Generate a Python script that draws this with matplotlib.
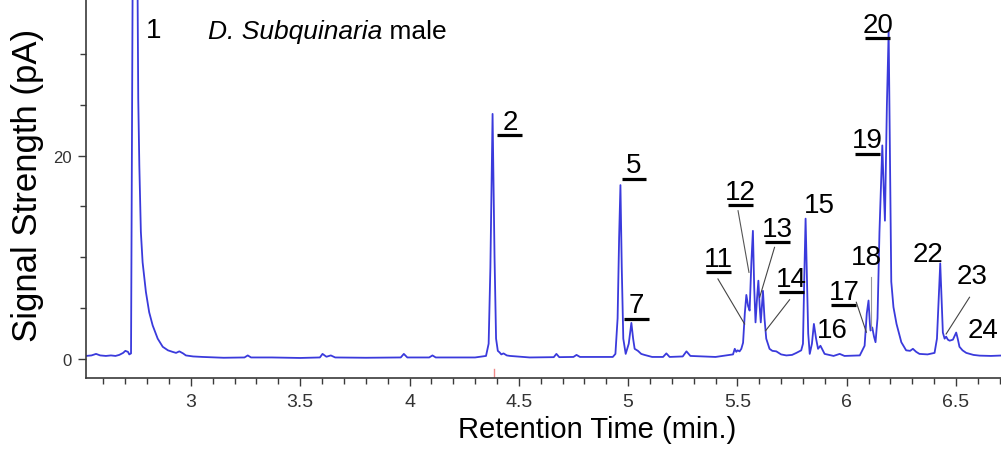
import matplotlib
matplotlib.use('Agg')
import matplotlib.pyplot as plt
from matplotlib.ticker import FixedLocator, MultipleLocator

# chromatogram trace (min, pA)
rt = [2.520, 2.545, 2.566, 2.585, 2.611, 2.634, 2.655, 2.672, 2.690, 2.700,
      2.712, 2.718, 2.726, 2.742, 2.756, 2.759, 2.764, 2.771, 2.779, 2.794,
      2.809, 2.825, 2.848, 2.871, 2.895, 2.916, 2.932, 2.947, 2.964, 2.977,
      3.010, 3.054, 3.150, 3.245, 3.260, 3.275, 3.370, 3.500, 3.590, 3.602,
      3.620, 3.640, 3.660, 3.800, 3.960, 3.974, 3.990, 4.090, 4.105, 4.120,
      4.300, 4.350, 4.362, 4.370, 4.380, 4.389, 4.396, 4.404, 4.412, 4.420,
      4.430, 4.445, 4.460, 4.550, 4.660, 4.672, 4.685, 4.750, 4.764, 4.780,
      4.930, 4.942, 4.952, 4.959, 4.965, 4.971, 4.978, 4.989, 5.003, 5.015,
      5.023, 5.030, 5.045, 5.060, 5.075, 5.110, 5.160, 5.175, 5.190, 5.250,
      5.267, 5.285, 5.400, 5.480, 5.488, 5.495, 5.501, 5.510, 5.518, 5.526,
      5.534, 5.541, 5.549, 5.556, 5.564, 5.571, 5.577, 5.583, 5.590, 5.596,
      5.602, 5.607, 5.612, 5.617, 5.624, 5.632, 5.647, 5.660, 5.678, 5.700,
      5.724, 5.750, 5.770, 5.792, 5.800, 5.806, 5.812, 5.818, 5.824, 5.831,
      5.841, 5.850, 5.860, 5.869, 5.880, 5.899, 5.940, 5.968, 5.990, 6.060,
      6.082, 6.092, 6.100, 6.106, 6.109, 6.117, 6.125, 6.132, 6.141, 6.150,
      6.163, 6.169, 6.175, 6.184, 6.192, 6.198, 6.204, 6.214, 6.228, 6.250,
      6.272, 6.290, 6.303, 6.318, 6.333, 6.370, 6.402, 6.413, 6.421, 6.428,
      6.434, 6.440, 6.448, 6.455, 6.463, 6.471, 6.486, 6.501, 6.508, 6.516,
      6.530, 6.547, 6.580, 6.608, 6.660, 6.720]
signal = [0.30, 0.35, 0.50, 0.35, 0.30, 0.35, 0.30, 0.40, 0.60, 0.80,
          0.70, 0.45, 0.55, 80.0, 36.0, 25.6, 19.0, 12.5, 9.5, 6.6,
          4.6, 3.3, 2.0, 1.2, 0.85, 0.70, 0.60, 0.75, 0.55, 0.35,
          0.25, 0.20, 0.12, 0.15, 0.35, 0.15, 0.15, 0.10, 0.15, 0.50,
          0.22, 0.35, 0.15, 0.12, 0.15, 0.50, 0.15, 0.15, 0.35, 0.15,
          0.15, 0.30, 1.5, 9.0, 24.1, 10.0, 2.0, 0.8, 0.65, 0.45,
          0.55, 0.35, 0.30, 0.15, 0.18, 0.50, 0.18, 0.20, 0.40, 0.20,
          0.20, 0.50, 4.0, 12.0, 17.1, 9.0, 2.0, 0.50, 1.5, 3.55,
          2.0, 1.0, 0.80, 0.50, 0.40, 0.20, 0.20, 0.55, 0.20, 0.25,
          0.75, 0.30, 0.20, 0.45, 1.0, 0.70, 0.85, 0.75, 1.0, 1.6,
          4.5, 6.3, 5.2, 4.76, 9.5, 12.6, 7.0, 3.6, 6.0, 7.7,
          5.2, 3.6, 5.2, 6.7, 4.0, 2.0, 1.0, 0.80, 0.75, 0.45,
          0.35, 0.40, 0.60, 0.85, 1.5, 8.0, 13.8, 8.0, 2.5, 0.50,
          1.5, 3.45, 2.0, 1.0, 1.3, 0.50, 0.30, 0.50, 0.30, 0.35,
          1.3, 4.5, 5.75, 3.5, 2.8, 3.1, 2.2, 1.65, 4.0, 12.5,
          21.0, 17.0, 13.6, 25.0, 32.2, 20.0, 7.6, 5.1, 3.45, 1.65,
          0.85, 0.80, 1.0, 0.70, 0.50, 0.45, 0.60, 2.0, 6.0, 9.4,
          6.0, 2.6, 2.0, 2.2, 1.9, 1.8, 1.9, 2.6, 2.0, 1.2,
          0.85, 0.60, 0.40, 0.33, 0.30, 0.35]

# peak labels: text, x, baseline y, underlined
peak_names = ['1', '2', '5', '7', '11', '12', '13', '14', '15', '16',
              '17', '18', '19', '20', '22', '23', '24']
label_x = [2.831, 4.459, 5.027, 5.038, 5.414, 5.515, 5.683, 5.747, 5.876, 5.932,
           5.987, 6.092, 6.094, 6.143, 6.371, 6.573, 6.623]
label_y = [31.63, 22.62, 18.36, 4.59, 9.17, 15.73, 12.12, 7.21, 14.42, 2.13,
           5.90, 9.34, 20.82, 32.18, 9.67, 7.47, 2.13]
underlined = [False, True, True, True, True, True, True, True, False, False,
              True, False, True, True, False, False, False]

# leader lines from label to peak: (x0, y0, x1, y1)
leaders = [(5.411, 7.87, 5.533, 3.44),
           (5.503, 14.58, 5.553, 8.52),
           (5.670, 10.98, 5.602, 6.07),
           (5.739, 5.83, 5.629, 2.78),
           (6.044, 5.58, 6.090, 2.63),
           (6.113, 8.03, 6.113, 2.95),
           (6.562, 6.07, 6.455, 2.46)]
leader_colors = ['#444444', '#555555', '#444444', '#444444', '#444444', '#999999', '#444444']

x_major = [3, 3.5, 4, 4.5, 5, 5.5, 6, 6.5]
x_labels = ['3', '3.5', '4', '4.5', '5', '5.5', '6', '6.5']
y_major = [0, 20]
y_minor = [5, 10, 15, 25, 30]
inject_time = 4.385

plt.rcParams['font.family'] = ['Liberation Sans', 'DejaVu Sans']

fig = plt.figure(figsize=(10.01, 4.77), dpi=100)
ax = fig.add_axes([86/1001, 98/477, 1 - 86/1001, 1 - 98/477])

ax.plot(rt, signal, color='#3a3adc', lw=1.3, solid_joinstyle='round')
ax.axvline(inject_time, ymin=0, ymax=0.025, color='#f08a8a', lw=1)

ax.set_xlim(2.52, 6.706)
ax.set_ylim(-1.87, 35.4)

for s in ['top', 'right']:
    ax.spines[s].set_visible(False)
for s in ['left', 'bottom']:
    ax.spines[s].set_color('#3a3a3a')
    ax.spines[s].set_linewidth(1.2)

ax.xaxis.set_major_locator(FixedLocator(x_major))
ax.xaxis.set_minor_locator(MultipleLocator(0.1))
ax.yaxis.set_major_locator(FixedLocator(y_major))
ax.yaxis.set_minor_locator(FixedLocator(y_minor))
ax.set_xticklabels(x_labels)
ax.tick_params(axis='both', which='major', direction='out', length=6, width=1, color='#3a3a3a')
ax.tick_params(axis='both', which='minor', direction='out', length=4, width=1, color='#3a3a3a')
ax.tick_params(axis='x', which='major', labelsize=14, pad=5, labelcolor='#333333')
ax.tick_params(axis='y', which='major', labelsize=12, pad=4, labelcolor='#333333')

for name, x, y, ul in zip(peak_names, label_x, label_y, underlined):
    ax.text(x, y, name, fontsize=20, ha='center', va='baseline', color='black')
    if ul:
        ax.plot([x - 0.057, x + 0.057], [y - 0.62, y - 0.62], color='black', lw=2.3,
                solid_capstyle='butt', clip_on=False)

for (x0, y0, x1, y1), c in zip(leaders, leader_colors):
    ax.plot([x0, x1], [y0, y1], color=c, lw=0.8)

t1 = ax.text(3.079, 31.53, 'D. Subquinaria', fontsize=19, style='italic',
             ha='left', va='baseline')
ax.annotate('\u00a0male', xy=(1, 0), xycoords=t1, fontsize=19, ha='left', va='bottom')

fig.text(28/1001, 1 - 185/477, 'Signal Strength (pA)', rotation=90,
         fontsize=25, ha='center', va='center')
fig.text(597/1001, 1 - 430/477, 'Retention Time (min.)', fontsize=21,
         ha='center', va='center')

fig.savefig('out.png', dpi=100)
